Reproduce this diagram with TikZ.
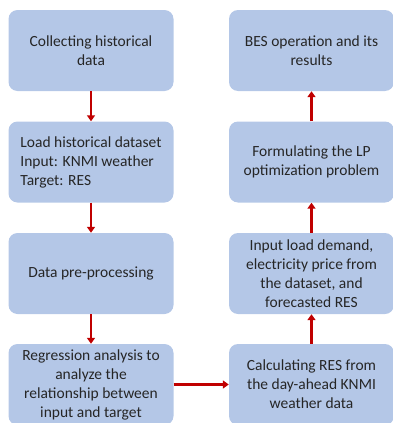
\documentclass[tikz,border=0pt]{standalone}
\usepackage{fontspec}
\setmainfont{Carlito}
\usetikzlibrary{arrows.meta}
\definecolor{boxblue}{HTML}{B4C7E7}
\definecolor{arrred}{HTML}{C00000}
\begin{document}
\begin{tikzpicture}[x=1pt,y=-1pt,
  stepbox/.style={rectangle, rounded corners=9pt, fill=boxblue, minimum width=165pt, minimum height=81pt,
    inner sep=2pt, font=\fontsize{15.5}{19}\selectfont, text=black!85},
  flow/.style={draw=arrred, line width=2.2pt, -{Triangle[length=6pt,width=8pt]}}]
\useasboundingbox (0,0) rectangle (393,423);
\node[stepbox, align=center] (l1) at (91,50.5) {Collecting historical\\data};
\node[stepbox, align=left] (l2) at (91,162) {Load historical dataset\\Input: KNMI weather\\Target: RES};
\node[stepbox, align=center] (l3) at (91,273.5) {Data pre-processing};
\node[stepbox, align=center] (l4) at (91,384.5) {Regression analysis to\\analyze the\\relationship between\\input and target};
\node[stepbox, align=center] (r1) at (311.5,50.5) {BES operation and its\\results};
\node[stepbox, align=center] (r2) at (311.5,162) {Formulating the LP\\optimization problem};
\node[stepbox, align=center] (r3) at (311.5,273.5) {Input load demand,\\electricity price from\\the dataset, and\\forecasted RES};
\node[stepbox, align=center] (r4) at (311.5,384.5) {Calculating RES from\\the day-ahead KNMI\\weather data};
\draw[flow] (l1) -- (l2);
\draw[flow] (l2) -- (l3);
\draw[flow] (l3) -- (l4);
\draw[flow] (l4) -- (r4);
\draw[flow] (r4) -- (r3);
\draw[flow] (r3) -- (r2);
\draw[flow] (r2) -- (r1);
\end{tikzpicture}
\end{document}
